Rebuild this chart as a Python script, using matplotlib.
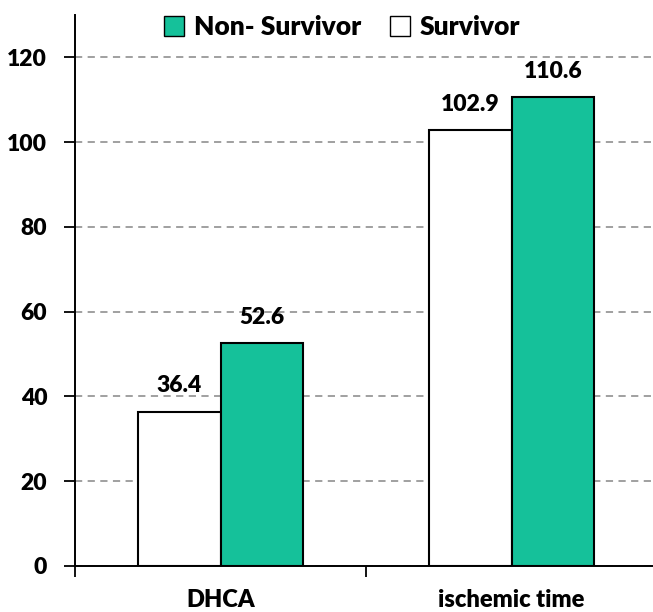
import numpy as np
import matplotlib.pyplot as plt
from matplotlib.patches import Patch

plt.rcParams['font.family'] = ['Lato', 'DejaVu Sans']
plt.rcParams['font.weight'] = 'heavy'

categories = ['DHCA', 'ischemic time']
survivor = [36.4, 102.9]
non_survivor = [52.6, 110.6]
yticks = [0, 20, 40, 60, 80, 100, 120]

green = '#15C19A'

fig = plt.figure(figsize=(6.53, 6.12), dpi=100)
ax = fig.add_axes([75/653, 46/612, 582/653, 551/612])

x = np.arange(len(categories))
w = 0.285
b1 = ax.bar(x - w/2, survivor, w, color='white', edgecolor='black', linewidth=1.5, zorder=3)
b2 = ax.bar(x + w/2, non_survivor, w, color=green, edgecolor='black', linewidth=1.5, zorder=3)

for bars, vals in ((b1, survivor), (b2, non_survivor)):
    for r, v in zip(bars, vals):
        ax.text(r.get_x() + r.get_width()/2, v + 3.6, '%.1f' % v, ha='center', va='bottom',
                fontsize=16.5, fontweight='heavy')

ax.set_xlim(-0.5, 1.5)
ax.set_ylim(0, 130)
ax.set_yticks(yticks)
ax.set_yticklabels([str(t) for t in yticks], fontsize=16.5, fontweight='heavy')
ax.yaxis.grid(True, linestyle=(0, (4, 3)), color='#999999', linewidth=1.3, zorder=0)

ax.set_xticks([-0.5, 0.5, 1.5])
ax.set_xticklabels([])
ax.set_xticks(x, minor=True)
ax.set_xticklabels(categories, minor=True, fontsize=17, fontweight='heavy')
ax.tick_params(axis='x', which='minor', length=0, pad=16.5)
ax.tick_params(axis='x', which='major', length=8, width=1.3, direction='out')
ax.tick_params(axis='y', length=8, width=1.3, direction='out', pad=12)

for s in ['top', 'right']:
    ax.spines[s].set_visible(False)
for s in ['left', 'bottom']:
    ax.spines[s].set_linewidth(1.4)

handles = [Patch(facecolor=green, edgecolor='black', label='Non- Survivor'),
           Patch(facecolor='white', edgecolor='black', label='Survivor')]
leg = fig.legend(handles=handles, loc='center', bbox_to_anchor=(342/653, 1 - 27/612), ncol=2,
                 frameon=False, fontsize=19, handlelength=0.77, handleheight=0.8,
                 handletextpad=0.35, columnspacing=1.1, borderpad=0)
for t in leg.get_texts():
    t.set_fontweight('heavy')

fig.savefig('out.png', dpi=100)
